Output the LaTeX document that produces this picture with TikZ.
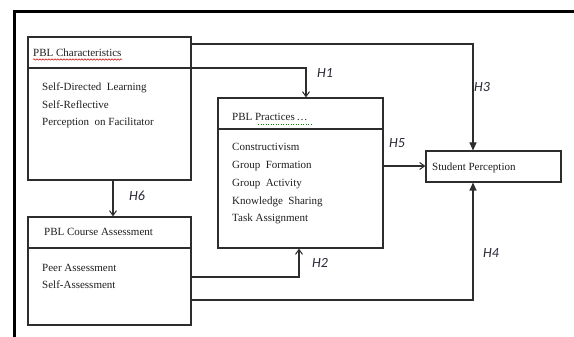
\documentclass[tikz,border=0pt]{standalone}
\usepackage{fontspec}
\setmainfont{Liberation Serif}
\newfontfamily\hfont{Carlito}
\usetikzlibrary{arrows.meta,decorations.pathmorphing}
\definecolor{ln}{RGB}{45,45,45}
\definecolor{hl}{RGB}{40,40,55}
\begin{document}
\begin{tikzpicture}[x=1pt,y=-1pt,
  box/.style={draw=ln,line width=1.1pt,rectangle,inner sep=0pt},
  txt/.style={anchor=base west,inner sep=0pt,font=\fontsize{11}{13}\selectfont,text=black!88},
  hlab/.style={font=\hfont\itshape\fontsize{14}{16}\selectfont,text=hl,inner sep=0pt},
  con/.style={draw=ln,line width=1.1pt},
  barb/.style={-{Straight Barb[length=5pt,width=7pt,line width=1pt]}},
  tri/.style={-{Triangle[length=8pt,width=7pt]}}]
\useasboundingbox (0,0) rectangle (574,337);
\fill[white] (0,0) rectangle (574,337);
% outer frame (top and left edges)
\draw[line width=3pt,black] (580,12) -- (14,12) -- (14,345);
% boxes
\node[box,minimum width=163pt,minimum height=143pt] (pc) at (109.5,108.5) {};
\node[box,minimum width=163pt,minimum height=108pt] (ca) at (109.5,271) {};
\node[box,minimum width=165pt,minimum height=150pt] (pp) at (300.5,173) {};
\node[box,minimum width=135pt,minimum height=31pt] (sp) at (493.5,166.5) {};
% header dividers
\draw[ln,line width=1.1pt] (pc.west |- 0,68) -- (pc.east |- 0,68);
\draw[ln,line width=1.1pt] (ca.west |- 0,248) -- (ca.east |- 0,248);
\draw[ln,line width=1.1pt] (pp.west |- 0,129) -- (pp.east |- 0,129);
% texts
\node[txt] (pch) at (33,57) {PBL Characteristics};
\node[txt] (pc1) at (42,91) {Self-Directed\ \ Learning};
\node[txt] (pc2) at (42,108.5) {Self-Reflective};
\node[txt] (pc3) at (42,126) {Perception\ \ on Facilitator};
\node[txt] (pph) at (232,121) {PBL Practices\,\ldots};
\node[txt] (pp1) at (232,150.7) {Constructivism};
\node[txt] (pp2) at (232,168.7) {Group\ \ Formation};
\node[txt] (pp3) at (232,186.4) {Group\ \ Activity};
\node[txt] (pp4) at (232,204.2) {Knowledge\ \ Sharing};
\node[txt] (pp5) at (232,221.7) {Task Assignment};
\node[txt] (cah) at (44,235) {PBL Course Assessment};
\node[txt] (ca1) at (42,271) {Peer Assessment};
\node[txt] (ca2) at (42,288) {Self-Assessment};
\node[txt] (spt) at (432,171) {Student Perception};
% spell-check squiggles
\draw[red!80!black,line width=0.5pt,decorate,decoration={snake,amplitude=0.7pt,segment length=3pt}] (33,59.5) -- (122,59.5);
\draw[green!55!black,line width=0.5pt,dotted] (258,124) -- (311,124);
% connectors
\coordinate (h3x) at (473,0);
\coordinate (h1x) at (306,0);
\coordinate (h2x) at (299,0);
\coordinate (h6x) at (113,0);
\draw[con,tri] (pc.east |- 0,44) -| (sp.north -| h3x);
\draw[con,barb] (pc.east |- 0,68) -| (pp.north -| h1x);
\draw[con,barb] (pp.east |- 0,166) -- (sp.west |- 0,166);
\draw[con,barb] (pc.south -| h6x) -- (ca.north -| h6x);
\draw[con,barb] (ca.east |- 0,277) -| (pp.south -| h2x);
\draw[con,tri] (ca.east |- 0,300) -| (sp.south -| h3x);
% labels
\node[hlab] (l1) at (325,73) {H1};
\node[hlab] (l3) at (482,87) {H3};
\node[hlab] (l5) at (397,143) {H5};
\node[hlab] (l6) at (137,196) {H6};
\node[hlab] (l2) at (320,263) {H2};
\node[hlab] (l4) at (491,253) {H4};
\end{tikzpicture}
\end{document}
